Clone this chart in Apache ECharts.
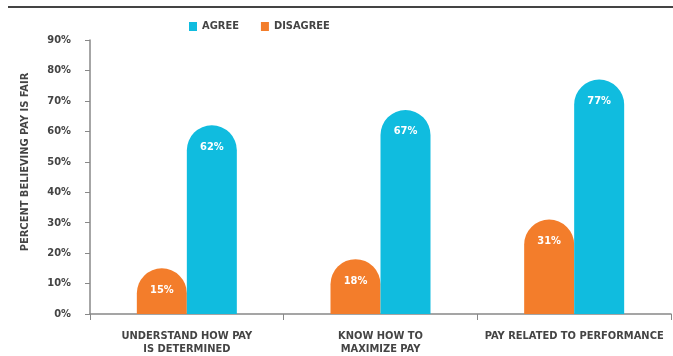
<!DOCTYPE html>
<html>
<head>
<meta charset="utf-8">
<script src="https://cdn.jsdelivr.net/npm/echarts@6/dist/echarts.min.js"></script>
<style>
html,body{margin:0;padding:0;background:#fff;}
#chart{width:673px;height:356px;}
</style>
</head>
<body>
<div id="chart"></div>
<script>
var categories = ['UNDERSTAND HOW PAY\nIS DETERMINED', 'KNOW HOW TO\nMAXIMIZE PAY', 'PAY RELATED TO PERFORMANCE'];
var agreeValues = [62, 67, 77];
var disagreeValues = [15, 18, 31];
var yTicks = [0, 10, 20, 30, 40, 50, 60, 70, 80, 90];
var yAxisTitle = 'PERCENT BELIEVING PAY IS FAIR';

var FONT = '"Liberation Sans Narrow", "DejaVu Sans Condensed", "Roboto Condensed", sans-serif';
var chart = echarts.init(document.getElementById('chart'));
chart.setOption({
  animation: false,
  textStyle: {fontFamily: FONT},
  graphic: [
    {type: 'line', shape: {x1: 8, y1: 7, x2: 673, y2: 7}, style: {stroke: '#444', lineWidth: 2}},
    {type: 'text', x: 25, y: 162, rotation: Math.PI / 2,
     style: {text: yAxisTitle, fill: '#444', font: 'bold 11px ' + FONT, align: 'center', verticalAlign: 'middle'}}
  ],
  legend: {
    data: ['AGREE', 'DISAGREE'],
    left: 184, top: 16,
    itemWidth: 8, itemHeight: 9, itemGap: 22,
    icon: 'rect',
    textStyle: {fontFamily: FONT, fontWeight: 'bold', fontSize: 11, color: '#444'}
  },
  grid: {left: 90, right: 2, top: 40, bottom: 37, containLabel: false},
  xAxis: {
    type: 'category',
    data: categories,
    axisLine: {lineStyle: {color: '#888', width: 1.5}},
    axisTick: {show: true, length: 6, lineStyle: {color: '#888'}},
    axisLabel: {color: '#444', fontWeight: 'bold', fontSize: 11, fontFamily: FONT, margin: 16, lineHeight: 13, interval: 0}
  },
  yAxis: {
    type: 'value', min: 0, max: 90, interval: 10,
    axisLine: {show: true, lineStyle: {color: '#888', width: 1.5}},
    axisTick: {show: true, length: 5, lineStyle: {color: '#888'}},
    splitLine: {show: false},
    axisLabel: {color: '#444', fontWeight: 'bold', fontSize: 11, fontFamily: FONT, margin: 19,
      formatter: function (v) { return yTicks.indexOf(v) >= 0 ? v + '%' : ''; }}
  },
  series: [
    {name: 'DISAGREE', type: 'bar', data: disagreeValues, barWidth: 50, barGap: '0%',
     itemStyle: {color: '#F37D2B', borderRadius: [25, 25, 0, 0]},
     label: {show: true, position: 'insideTop', distance: 16, color: '#fff', fontWeight: 'bold', fontSize: 11, fontFamily: FONT, formatter: '{c}%'}},
    {name: 'AGREE', type: 'bar', data: agreeValues, barWidth: 50, barGap: '0%',
     itemStyle: {color: '#10BCDF', borderRadius: [25, 25, 0, 0]},
     label: {show: true, position: 'insideTop', distance: 16, color: '#fff', fontWeight: 'bold', fontSize: 11, fontFamily: FONT, formatter: '{c}%'}}
  ]
});
</script>
</body>
</html>
